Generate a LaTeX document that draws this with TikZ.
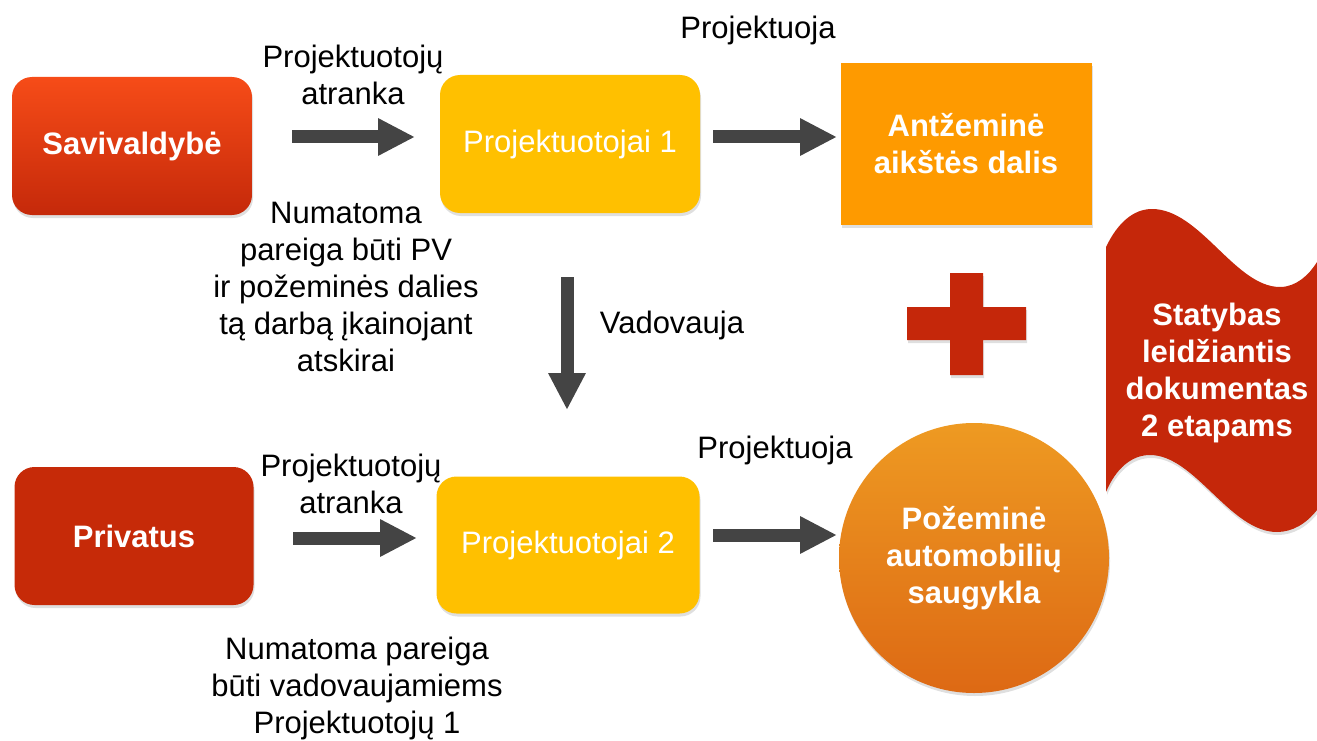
\documentclass[tikz,border=0pt]{standalone}
\usepackage{fontspec}
\setmainfont{Liberation Sans}
\usetikzlibrary{arrows.meta,shadows}

\definecolor{savtop}{HTML}{F64C18}
\definecolor{savbot}{HTML}{C5290A}
\definecolor{privred}{HTML}{C62A08}
\definecolor{designyellow}{HTML}{FFC000}
\definecolor{siteorange}{HTML}{FE9A00}
\definecolor{circtop}{HTML}{EE9A22}
\definecolor{circbot}{HTML}{DD6914}
\definecolor{plusred}{HTML}{C5270A}
\definecolor{arrowgray}{HTML}{444444}

\tikzset{
  lbl/.style={font=\fontsize{31}{37}\selectfont, align=center, inner sep=0pt, text=black},
  boxtxt/.style={font=\fontsize{31}{37}\selectfont\bfseries, align=center, text=white, inner sep=0pt},
  softshadow/.style={drop shadow={opacity=0.25, shadow xshift=1pt, shadow yshift=-3pt}},
  rbox/.style={rounded corners=20pt, softshadow, inner sep=0pt},
  fat/.style={draw=arrowgray, line width=13pt, -{Triangle[width=35pt,length=37pt]}}
}

\begin{document}
\begin{tikzpicture}[x=1pt,y=-1pt]
\useasboundingbox (0,0) rectangle (1317,741);

% upper row
\node[rbox, boxtxt, top color=savtop, bottom color=savbot,
      minimum width=240pt, minimum height=138pt] (sav) at (132,146) {Savivaldybė};
\node[rbox, boxtxt, font=\fontsize{31}{37}\selectfont, fill=designyellow,
      minimum width=260pt, minimum height=138pt] (pr1) at (570,144) {Projektuotojai 1};
\node[softshadow, boxtxt, fill=siteorange,
      minimum width=251pt, minimum height=162pt] (above) at (966,144) {Antžeminė\\aikštės dalis};

% lower row
\node[rbox, boxtxt, fill=privred,
      minimum width=239pt, minimum height=138pt] (priv) at (134,536) {Privatus};
\node[rbox, boxtxt, font=\fontsize{31}{37}\selectfont, fill=designyellow,
      minimum width=263pt, minimum height=137pt] (pr2) at (568,545) {Projektuotojai 2};
\node[circle, softshadow, boxtxt, top color=circtop, bottom color=circbot,
      minimum size=270pt] (park) at (974,558) {Požeminė\\automobilių\\saugykla};

% plus sign
\fill[plusred, softshadow] (950,273) -- (983,273) -- (983,307) -- (1026,307) -- (1026,340)
  -- (983,340) -- (983,375) -- (950,375) -- (950,340) -- (907,340) -- (907,307) -- (950,307) -- cycle;

% wavy banner
\fill[plusred, softshadow] (1106,247)
  .. controls (1118,222) and (1134,209) .. (1152,209)
  .. controls (1200,209) and (1235,287) .. (1280,287)
  .. controls (1296,287) and (1309,275) .. (1317,262)
  -- (1317,510)
  .. controls (1306,524) and (1292,532) .. (1277,532)
  .. controls (1230,532) and (1195,455) .. (1150,455)
  .. controls (1132,455) and (1116,468) .. (1106,492) -- cycle;
\node[boxtxt] (permit) at (1217,373) {Statybas\\leidžiantis\\dokumentas\\2 etapams};

% arrow end points
\coordinate (a1s) at (292,137);  \coordinate (a1e) at (415,137);
\coordinate (a2s) at (713,137);  \coordinate (a2e) at (837,137);
\coordinate (a3s) at (293,538);  \coordinate (a3e) at (417,538);
\coordinate (a4s) at (713,535);  \coordinate (a4e) at (837,535);
\coordinate (a5s) at (567,277);  \coordinate (a5e) at (567,410);

\draw[fat] (a1s) -- (a1e);
\draw[fat] (a2s) -- (a2e);
\draw[fat] (a3s) -- (a3e);
\draw[fat] (a4s) -- (a4e);
\draw[fat] (a5s) -- (a5e);

% labels
\node[lbl] (sel1) at (353,75) {Projektuotojų\\atranka};
\node[lbl] (des1) at (758,30) {Projektuoja};
\node[lbl] (duty1) at (346,287) {Numatoma\\pareiga būti PV\\ir požeminės dalies\\tą darbą įkainojant\\atskirai};
\node[lbl] (lead) at (672,325) {Vadovauja};
\node[lbl] (des2) at (775,450) {Projektuoja};
\node[lbl] (sel2) at (351,484) {Projektuotojų\\atranka};
\node[lbl] (duty2) at (357,688) {Numatoma pareiga\\būti vadovaujamiems\\Projektuotojų 1};
\end{tikzpicture}
\end{document}
